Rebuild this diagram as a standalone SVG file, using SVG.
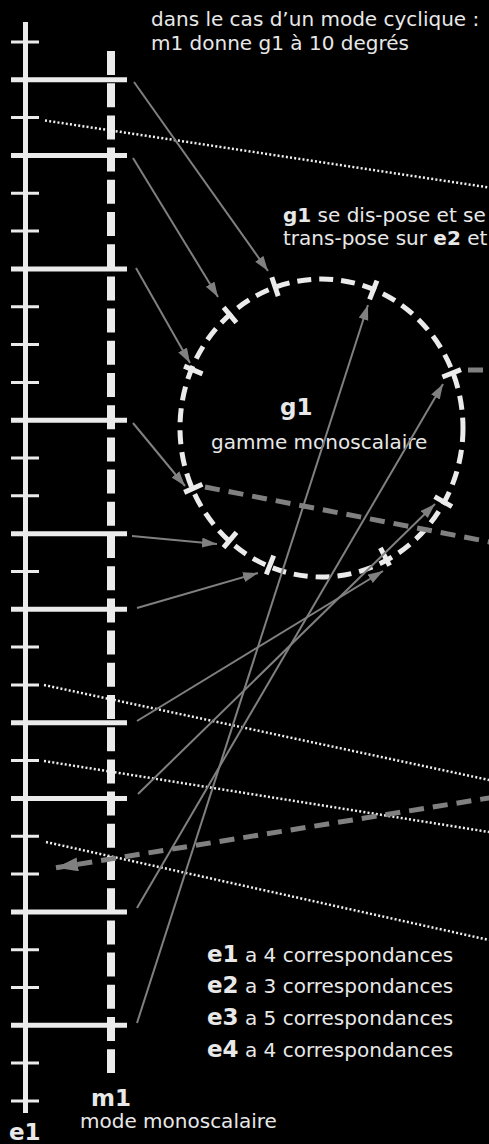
<svg xmlns="http://www.w3.org/2000/svg" width="489" height="1144" viewBox="0 0 489 1144">
<defs>
<style>
.txt{font-family:"DejaVu Sans","Verdana",sans-serif;fill:#e8e8e8;font-size:20px}
.b{font-weight:bold}
.big{font-size:23px}
.wl{stroke:#ebebeb;fill:none}
.thin{stroke:#808080;stroke-width:2;fill:none;marker-end:url(#ah)}
.dot{stroke:#f0f0f0;stroke-width:2.5;stroke-dasharray:2 2.2;fill:none}
.gdash{stroke:#808080;stroke-width:5;stroke-dasharray:15 9;fill:none}
.tick{stroke:#ebebeb;stroke-width:5;fill:none}
</style>
<marker id="ah" markerUnits="userSpaceOnUse" markerWidth="16" markerHeight="12" refX="15" refY="5" orient="auto">
<path d="M0,0 L15,5 L0,10 z" fill="#808080"/>
</marker>
<marker id="ahBig" markerUnits="userSpaceOnUse" markerWidth="24" markerHeight="16" refX="22" refY="7" orient="auto">
<path d="M0,0 L22,7 L0,14 z" fill="#808080"/>
</marker>
</defs>
<rect width="489" height="1144" fill="#000"/>

<g id="e1">
<path class="wl" stroke-width="5" d="M25.5,22 V1113"/>
<path class="wl" stroke-width="3" d="M11,42H39 M11,117.6H39 M11,193.3H39 M11,231.1H39 M11,306.7H39 M11,344.6H39 M11,382.4H39 M11,458H39 M11,495.8H39 M11,571.5H39 M11,647.1H39 M11,684.9H39 M11,760.6H39 M11,836.2H39 M11,874H39 M11,949.7H39 M11,987.5H39 M11,1063.1H39 M11,1100.9H39"/>
<text class="txt b big" x="9" y="1140">e1</text>
</g>

<g id="m1">
<path class="wl" stroke-width="8" stroke-dasharray="24 8.2" d="M111,51 V1073"/>
<path class="wl" stroke-width="5" d="M11,79.8H127 M11,155.5H127 M11,268.9H127 M11,420.2H127 M11,533.7H127 M11,609.3H127 M11,722.8H127 M11,798.4H127 M11,911.9H127 M11,1025.3H127"/>
<text class="txt b big" x="91" y="1106">m1</text>
<text class="txt" x="80" y="1128">mode monoscalaire</text>
</g>

<g id="g1">
<ellipse cx="321.5" cy="428" rx="141.5" ry="149" fill="none" stroke="#ebebeb" stroke-width="5" stroke-dasharray="14 8"/>
<path class="tick" d="M271.8,277.3L278.2,296.1 M223.6,307.4L236.4,322.6 M184.1,366.1L202.5,373.9 M184.2,492.4L202.4,484.2 M223.5,547.6L236.5,532.4 M266.3,574.3L273.7,555.7 M389.6,565.6L380.4,547.8 M452,506.7L434.6,496.7 M461,369.6L442.4,377 M377,280.7L369.6,299.3"/>
<text class="txt b big" x="280" y="415">g1</text>
<text class="txt" x="211" y="449">gamme monoscalaire</text>
</g>

<g id="connectors">
<path class="dot" d="M45,120.5 L489,187.5"/>
<path class="dot" d="M44,685 L489,780"/>
<path class="dot" d="M44,761 L489,832"/>
<path class="dot" d="M46,842 L489,940"/>
<path class="gdash" d="M468,370 L489,370"/>
<path class="gdash" d="M205,487 L495,543"/>
<path class="gdash" d="M495,797 L56,867.8" marker-end="url(#ahBig)"/>
<path class="thin" d="M134,82 L268,271"/>
<path class="thin" d="M133,158 L218,297"/>
<path class="thin" d="M136,268 L190,363"/>
<path class="thin" d="M133,423 L185,486"/>
<path class="thin" d="M132,536 L217,544"/>
<path class="thin" d="M137,608 L258,573"/>
<path class="thin" d="M137,721 L383,571"/>
<path class="thin" d="M138,794 L435,504"/>
<path class="thin" d="M137,908 L443,384"/>
<path class="thin" d="M137,1023 L368,305"/>
</g>

<g id="notes">
<text class="txt" x="151" y="26">dans le cas d’un mode cyclique :</text>
<text class="txt" x="151" y="50">m1 donne g1 à 10 degrés</text>
<text class="txt" x="283" y="222"><tspan class="b">g1</tspan> se dis-pose et se</text>
<text class="txt" x="283" y="245">trans-pose sur <tspan class="b">e2</tspan> et</text>
<text class="txt" x="207" y="962"><tspan class="b big">e1</tspan> a 4 correspondances</text>
<text class="txt" x="207" y="993"><tspan class="b big">e2</tspan> a 3 correspondances</text>
<text class="txt" x="207" y="1025"><tspan class="b big">e3</tspan> a 5 correspondances</text>
<text class="txt" x="207" y="1057"><tspan class="b big">e4</tspan> a 4 correspondances</text>
</g>
</svg>
